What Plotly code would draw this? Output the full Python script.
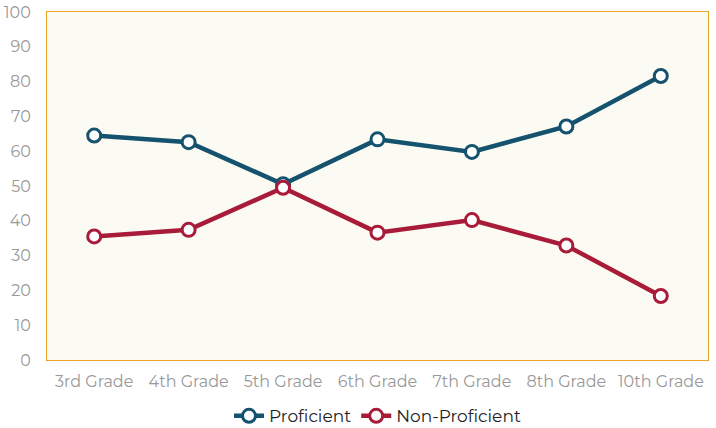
import plotly.graph_objects as go

categories = ["3rd Grade", "4th Grade", "5th Grade", "6th Grade", "7th Grade", "8th Grade", "10th Grade"]
proficient = [64.5, 62.6, 50.5, 63.4, 59.8, 67.1, 81.6]
non_proficient = [35.5, 37.4, 49.5, 36.6, 40.2, 32.9, 18.4]
y_ticks = [0, 10, 20, 30, 40, 50, 60, 70, 80, 90, 100]

BLUE = "#14526E"
RED = "#A81C3A"
GRID = "#E8A521"

fig = go.Figure()
for name, vals, col in [("Proficient", proficient, BLUE), ("Non-Proficient", non_proficient, RED)]:
    fig.add_trace(go.Scatter(
        x=categories, y=vals, name=name, mode="lines+markers",
        line=dict(color=col, width=4.5),
        marker=dict(symbol="circle", size=13, color="white", line=dict(color=col, width=3)),
    ))

fig.update_layout(
    width=716, height=428,
    margin=dict(l=47, r=8, t=12, b=68, autoexpand=False),
    paper_bgcolor="white",
    plot_bgcolor="#FCFBF3",
    font=dict(family="Montserrat, Open Sans, sans-serif", size=16, color="#999999"),
    showlegend=True,
    legend=dict(orientation="h", x=0.5, xanchor="center", y=-0.11, yanchor="top",
                font=dict(color="#222222", size=17), itemwidth=30),
)
fig.update_xaxes(range=[-0.5, 6.5], showgrid=False, showline=True, mirror=True, linecolor=GRID,
                 linewidth=1, ticks="", ticklabelstandoff=7, tickfont=dict(size=16, color="#999999"))
fig.update_yaxes(range=[0, 100], tickvals=y_ticks, showgrid=False, showline=True, mirror=True,
                 linecolor=GRID, linewidth=1, zeroline=False, ticks="", ticklabelstandoff=12,
                 tickfont=dict(size=16, color="#999999"))

fig.write_html("out.html")
